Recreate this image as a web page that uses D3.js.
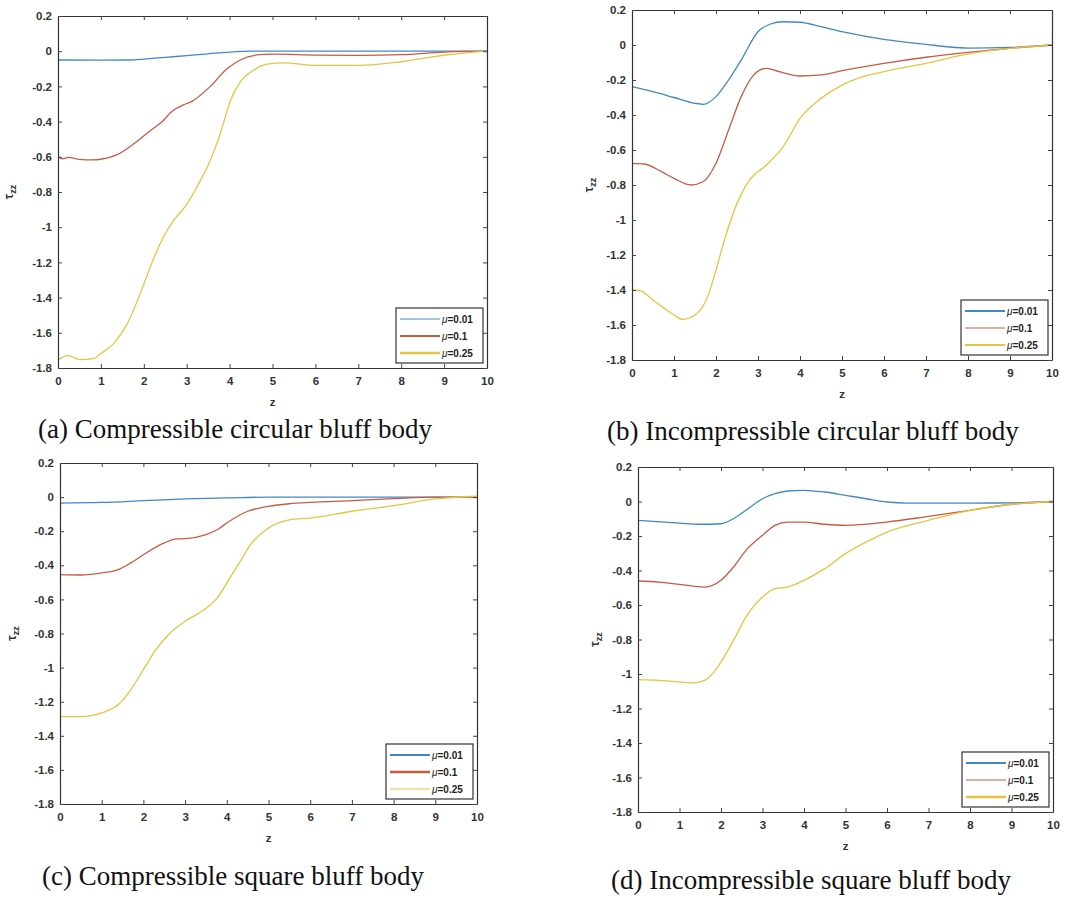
<!DOCTYPE html>
<html>
<head>
<meta charset="utf-8">
<script src="https://cdn.jsdelivr.net/npm/d3@7"></script>
<style>
  body { margin: 0; background: #fff; }
</style>
</head>
<body>
<div id="chart"></div>
<script>
// ---- data ----
const xTicks = [0, 1, 2, 3, 4, 5, 6, 7, 8, 9, 10];
const yTicks = [0.2, 0, -0.2, -0.4, -0.6, -0.8, -1, -1.2, -1.4, -1.6, -1.8];
const muLabels = ["0.01", "0.1", "0.25"];
const captions = [
  "(a) Compressible circular bluff body",
  "(b) Incompressible circular bluff body",
  "(c) Compressible square bluff body",
  "(d) Incompressible square bluff body"
];

// (a) compressible circular, [z, tau_zz]
const a_mu001 = [[0,-0.05],[1,-0.051],[1.7,-0.05],[2,-0.045],[2.5,-0.035],[3,-0.025],[3.5,-0.015],[4,-0.005],[4.5,0],[5,0],[7,0],[10,0]];
const a_mu01 = [[0,-0.6],[0.1,-0.612],[0.25,-0.603],[0.5,-0.615],[0.8,-0.618],[1,-0.614],[1.38,-0.588],[1.77,-0.526],[2.16,-0.45],[2.45,-0.395],[2.62,-0.35],[2.97,-0.3],[3.12,-0.285],[3.55,-0.2],[3.94,-0.1],[4.25,-0.05],[4.7,-0.02],[5,-0.017],[6,-0.022],[7,-0.024],[8,-0.02],[9,-0.005],[10,0]];
const a_mu025 = [[0,-1.755],[0.22,-1.73],[0.53,-1.752],[0.84,-1.745],[1,-1.718],[1.3,-1.66],[1.6,-1.555],[1.92,-1.375],[2.16,-1.22],[2.47,-1.05],[2.7,-0.96],[2.97,-0.88],[3.24,-0.77],[3.55,-0.62],[3.78,-0.47],[4.02,-0.28],[4.25,-0.174],[4.56,-0.108],[4.87,-0.074],[5.26,-0.066],[6,-0.08],[7,-0.081],[8,-0.06],[9,-0.023],[10,0]];

// (b) incompressible circular
const b_mu001 = [[0,-0.238],[0.5,-0.267],[1,-0.3],[1.5,-0.333],[1.7,-0.339],[2,-0.295],[2.3,-0.2],[2.6,-0.086],[3,0.076],[3.3,0.12],[3.6,0.133],[4,0.13],[4.5,0.105],[5,0.076],[6,0.032],[6.5,0.017],[7,0.004],[7.5,-0.01],[8,-0.018],[9,-0.014],[10,0]];
const b_mu01 = [[0,-0.676],[0.3,-0.68],[0.7,-0.724],[1,-0.762],[1.4,-0.8],[1.7,-0.78],[2,-0.676],[2.3,-0.486],[2.6,-0.295],[2.9,-0.171],[3.2,-0.133],[3.5,-0.152],[4,-0.177],[4.5,-0.171],[5,-0.147],[6,-0.105],[7,-0.07],[8,-0.042],[9,-0.019],[10,0]];
const b_mu025 = [[0,-1.4],[0.2,-1.405],[0.5,-1.457],[1,-1.543],[1.2,-1.568],[1.5,-1.543],[1.8,-1.438],[2,-1.286],[2.2,-1.114],[2.5,-0.905],[2.8,-0.771],[3.2,-0.686],[3.6,-0.581],[4,-0.419],[4.5,-0.305],[5,-0.229],[5.5,-0.181],[6,-0.152],[7,-0.105],[8,-0.051],[9,-0.019],[10,0]];

// (c) compressible square
const c_mu001 = [[0,-0.035],[1,-0.031],[2,-0.021],[3,-0.011],[4,-0.005],[5,0],[7,0],[10,0]];
const c_mu01 = [[0,-0.455],[0.5,-0.457],[1,-0.445],[1.4,-0.425],[1.7,-0.386],[2,-0.338],[2.5,-0.269],[2.8,-0.245],[3,-0.244],[3.5,-0.22],[3.8,-0.187],[4,-0.152],[4.5,-0.083],[5,-0.054],[5.5,-0.039],[6,-0.031],[7,-0.021],[8,-0.009],[9,0],[10,0]];
const c_mu025 = [[0,-1.286],[0.5,-1.288],[1,-1.266],[1.4,-1.217],[1.7,-1.129],[2,-1.012],[2.3,-0.895],[2.6,-0.807],[3,-0.728],[3.4,-0.67],[3.8,-0.582],[4,-0.503],[4.3,-0.386],[4.6,-0.269],[5,-0.181],[5.5,-0.133],[6,-0.123],[7,-0.083],[8,-0.05],[9,-0.011],[10,0.005]];

// (d) incompressible square
const d_mu001 = [[0,-0.109],[1,-0.125],[1.5,-0.132],[2,-0.129],[2.3,-0.1],[2.6,-0.051],[3,0.016],[3.3,0.045],[3.6,0.061],[4,0.065],[4.5,0.055],[5,0.036],[5.5,0.016],[6,-0.003],[6.5,-0.009],[8,-0.009],[9,-0.008],[10,0]];
const d_mu01 = [[0,-0.461],[0.5,-0.467],[1,-0.48],[1.6,-0.496],[2,-0.457],[2.3,-0.38],[2.6,-0.283],[3,-0.196],[3.3,-0.138],[3.6,-0.119],[4,-0.119],[4.5,-0.132],[5,-0.138],[6,-0.119],[7,-0.086],[8,-0.051],[9,-0.016],[10,0]];
const d_mu025 = [[0,-1.033],[0.5,-1.037],[1,-1.046],[1.3,-1.052],[1.6,-1.037],[1.8,-0.998],[2,-0.93],[2.3,-0.805],[2.6,-0.67],[3,-0.554],[3.3,-0.505],[3.6,-0.496],[4,-0.457],[4.5,-0.389],[5,-0.302],[5.5,-0.235],[6,-0.177],[7,-0.109],[8,-0.051],[9,-0.016],[10,0]];

// ---- layout ----
const W = 1089, H = 899;
const colors = ["#4089c4", "#c95a42", "#e6c443"];

const panels = [
  { series: [a_mu001, a_mu01, a_mu025], l: 58, t: 16, r: 487, b: 368, capX: 38, capY: 438, ylabX: 13, legW: [1, 2, 2.5] },
  { series: [b_mu001, b_mu01, b_mu025], l: 632, t: 10, r: 1052, b: 360, capX: 607, capY: 440, ylabX: 593, legW: [2, 1, 2] },
  { series: [c_mu001, c_mu01, c_mu025], l: 60, t: 463, r: 477, b: 804, capX: 42, capY: 885, ylabX: 16, legW: [2, 2.5, 1] },
  { series: [d_mu001, d_mu01, d_mu025], l: 638, t: 467, r: 1053, b: 812, capX: 611, capY: 889, ylabX: 599, legW: [2, 1, 2.5] }
];

const svg = d3.select("#chart").append("svg")
  .attr("width", W)
  .attr("height", H)
  .style("font-family", "'Liberation Sans', Arial, sans-serif");

const fmt = d => (d === 0 ? "0" : String(d));

panels.forEach(function (p, i) {
  const x = d3.scaleLinear().domain([0, 10]).range([p.l, p.r]);
  const y = d3.scaleLinear().domain([-1.8, 0.2]).range([p.b, p.t]);
  const g = svg.append("g");

  // curves first so the box sits on top
  const line = d3.line()
    .x(d => x(d[0]))
    .y(d => y(d[1]))
    .curve(d3.curveMonotoneX);

  g.selectAll("path.curve")
    .data(p.series)
    .enter()
    .append("path")
    .attr("class", "curve")
    .attr("d", line)
    .attr("fill", "none")
    .attr("stroke", (d, k) => colors[k])
    .attr("stroke-width", 1.3);

  // axes, ticks pointing inward on all four sides
  const ax = [
    g.append("g").attr("transform", "translate(0," + p.b + ")")
      .call(d3.axisBottom(x).tickValues(xTicks).tickFormat(fmt).tickSizeInner(-4).tickSizeOuter(0).tickPadding(9)),
    g.append("g").attr("transform", "translate(0," + p.t + ")")
      .call(d3.axisTop(x).tickValues(xTicks).tickFormat("").tickSizeInner(-4).tickSizeOuter(0)),
    g.append("g").attr("transform", "translate(" + p.l + ",0)")
      .call(d3.axisLeft(y).tickValues(yTicks).tickFormat(fmt).tickSizeInner(-4).tickSizeOuter(0).tickPadding(6)),
    g.append("g").attr("transform", "translate(" + p.r + ",0)")
      .call(d3.axisRight(y).tickValues(yTicks).tickFormat("").tickSizeInner(-4).tickSizeOuter(0))
  ];
  ax.forEach(a => {
    a.select(".domain").attr("stroke", "#333").attr("stroke-width", 1.2);
    a.selectAll(".tick line").attr("stroke", "#444");
    a.selectAll(".tick text")
      .attr("fill", "#333")
      .style("font-size", "11.5px")
      .style("font-weight", "bold");
  });

  // axis titles
  g.append("text")
    .attr("x", (p.l + p.r) / 2)
    .attr("y", p.b + 38)
    .attr("text-anchor", "middle")
    .attr("fill", "#333")
    .style("font-size", "11.5px")
    .style("font-weight", "bold")
    .text("z");

  const yl = g.append("text")
    .attr("transform", "translate(" + p.ylabX + "," + ((p.t + p.b) / 2) + ") rotate(-90)")
    .attr("text-anchor", "middle")
    .attr("fill", "#333")
    .style("font-size", "12px")
    .style("font-weight", "bold");
  yl.append("tspan").text("\u03c4");
  yl.append("tspan").attr("dy", 3).style("font-size", "9px").text("zz");

  // legend
  const lw = 87, lh = 55;
  const lx = p.r - 4 - lw, ly = p.b - 5 - lh;
  const leg = g.append("g").attr("transform", "translate(" + lx + "," + ly + ")");
  leg.append("rect")
    .attr("width", lw)
    .attr("height", lh)
    .attr("fill", "#fff")
    .attr("stroke", "#333")
    .attr("stroke-width", 1.2);
  muLabels.forEach(function (m, k) {
    const yy = 11 + k * 17;
    leg.append("line")
      .attr("x1", 4).attr("x2", 44)
      .attr("y1", yy).attr("y2", yy)
      .attr("stroke", colors[k])
      .attr("stroke-width", p.legW[k]);
    const t = leg.append("text")
      .attr("x", 46)
      .attr("y", yy + 3.5)
      .attr("fill", "#222")
      .style("font-size", "10px")
      .style("font-weight", "bold");
    t.append("tspan").style("font-style", "italic").style("font-weight", "normal").text("\u03bc");
    t.append("tspan").text("=" + m);
  });

  // caption
  svg.append("text")
    .attr("x", p.capX)
    .attr("y", p.capY)
    .attr("fill", "#111")
    .style("font-family", "'Liberation Serif', 'Times New Roman', serif")
    .style("font-size", "27px")
    .text(captions[i]);
});
</script>
</body>
</html>
